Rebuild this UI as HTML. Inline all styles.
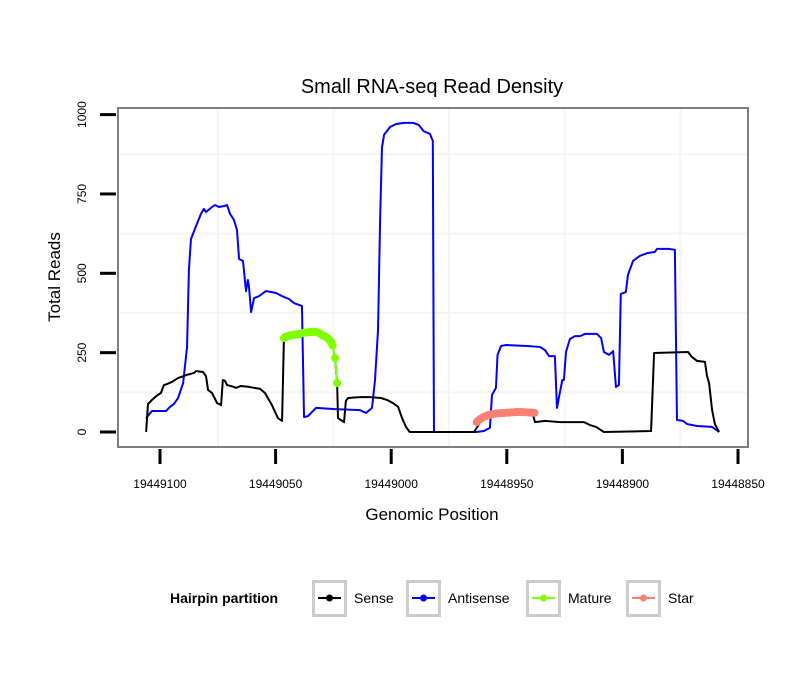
<!DOCTYPE html>
<html><head><meta charset="utf-8"><style>
body{margin:0;background:#fff;font-family:"Liberation Sans",sans-serif}
</style></head><body>
<svg id="chart" width="810" height="690" xmlns="http://www.w3.org/2000/svg">
<rect width="810" height="690" fill="#fff"/>
<text x="432" y="93" font-size="20" text-anchor="middle">Small RNA-seq Read Density</text>
<g id="grid"></g>
<g id="series"></g>
<rect x="118" y="108" width="630" height="339" fill="none" stroke="#7f7f7f" stroke-width="2"/>
<g id="axes"></g>
<text x="432" y="520" font-size="17" text-anchor="middle">Genomic Position</text>
<text transform="translate(60,277) rotate(-90)" font-size="17" text-anchor="middle">Total Reads</text>
<g>
<text x="170" y="603" font-size="14" font-weight="bold">Hairpin partition</text>
<g><rect x="313.5" y="581.5" width="32" height="34" fill="#fff" stroke="#ccc" stroke-width="3"/><line x1="318" y1="598" x2="341" y2="598" stroke="#000" stroke-width="2"/><circle cx="329.5" cy="598" r="3.5" fill="#000"/><text x="354" y="603" font-size="14">Sense</text></g>
<g><rect x="407.5" y="581.5" width="32" height="34" fill="#fff" stroke="#ccc" stroke-width="3"/><line x1="412" y1="598" x2="435" y2="598" stroke="#00f" stroke-width="2"/><circle cx="423.5" cy="598" r="3.5" fill="#00f"/><text x="448" y="603" font-size="14">Antisense</text></g>
<g><rect x="527.5" y="581.5" width="32" height="34" fill="#fff" stroke="#ccc" stroke-width="3"/><line x1="532" y1="598" x2="555" y2="598" stroke="#7fff00" stroke-width="2"/><circle cx="543.5" cy="598" r="3.5" fill="#7fff00"/><text x="568" y="603" font-size="14">Mature</text></g>
<g><rect x="627.5" y="581.5" width="32" height="34" fill="#fff" stroke="#ccc" stroke-width="3"/><line x1="632" y1="598" x2="655" y2="598" stroke="#fa8072" stroke-width="2"/><circle cx="643.5" cy="598" r="3.5" fill="#fa8072"/><text x="668" y="603" font-size="14">Star</text></g>
</g>
</svg>
<script>
const B = 19449100;
const xTicks = [19449100, 19449050, 19449000, 19448950, 19448900, 19448850];
const xTickLabels = ["19449100", "19449050", "19449000", "19448950", "19448900", "19448850"];
const yTicks = [0, 250, 500, 750, 1000];
const yTickLabels = ["0", "250", "500", "750", "1000"];
// offsets below base position (position = B - offset)
const antisenseOffsets = [-6,-3.5,2.6,4.3,6,7.8,10,11.7,12.5,13.4,15.6,17.7,19,19.9,22.5,23.8,25.5,27.7,29,30.3,32,33.3,34.2,35.9,37.2,38,38.5,39.4,40.7,42.8,45.8,48,50.2,52.8,55.8,58,61.4,62.3,64,67.5,75.7,86.5,89.1,91.7,93,94.3,95.2,96,96.9,99.5,102,105.5,109.4,112,114,116.8,118,118.5,137,140,142.7,143.6,145.3,146,147.5,149.7,158.7,164.4,166.5,168.3,170.8,171.7,174,174.7,175.6,177.3,179.5,181.7,183.8,189,190.8,192,194.2,196,197.2,198.5,199.3,201.5,202.4,204.6,207.6,211,214,215,220,222.7,223.6,226.2,228,232.3,238.8,241.8];
const antisenseReads = [44,66,66,79,88,107,154,268,510,608,649,687,703,693,709,715,709,712,715,687,668,636,545,539,444,479,457,378,422,428,444,441,438,428,419,406,397,47,50,76,72,69,60,76,164,321,668,895,936,961,970,974,974,967,948,939,917,0,0,3,13,117,139,243,271,274,271,268,258,239,239,76,164,164,252,293,302,302,309,309,296,252,243,255,142,148,435,441,495,539,555,564,567,577,577,574,38,35,25,19,16,0];
const senseOffsets = [-6,-5.2,-3.9,-2.6,-0.9,0.4,1.7,3,5.2,7.8,11.7,14.7,15.6,18.6,19.9,20.8,22.5,24.7,26.4,27.2,28.1,29,32,32.9,35,38.5,43.3,45.4,48.4,51,52.8,53.6,60,66,70,72,74,74.7,75.7,76.6,77,79.6,80.4,81.3,86.5,90.8,95.6,98.2,100.8,103,104.7,106.4,108,135.8,137,140,145,150,155,160,161.5,162.2,166.5,173,183.4,186,188.6,192,212.4,213.7,228.4,230.1,232.3,235.7,236.6,237.5,238.8,240,241.8];
const senseReads = [0,88,98,107,117,123,148,151,158,170,180,186,192,189,176,132,123,91,85,164,161,148,142,139,145,142,136,123,85,44,35,296,308,315,306,298,284,272,233,154,44,31,98,107,110,110,107,101,91,79,44,16,0,0,13,47,58,61,63,61,50,31,35,31,31,22,16,0,3,249,252,236,224,221,176,154,69,25,0];
const matureOffsets = [53.6,54,54.5,55,55.5,56,56.5,57,57.5,58,58.5,59,59.5,60,60.5,61,61.5,62,62.5,63,63.5,64,64.5,65,65.5,66,66.5,67,67.5,68,68.5,69,69.5,70,70.5,71,71.5,72,72.5,73,73.5,74,74.2,74.7,75.7,76.6];
const matureReads = [296,298,300,301,303,304,305,305,306,306,307,307,308,308,309,310,311,312,313,313,314,314,315,315,315,315,316,316,315,314,313,311,309,306,304,302,300,298,295,292,288,284,280,272,233,154];
const starOffsets = [137,137.5,138,138.5,139,139.5,140,140.5,141,141.5,142,142.5,143,143.5,144,144.5,145,145.5,146,147,148,149,150,151,152,153,154,155,156,157,158,159,160,161,162];
const starReads = [31,35,38,41,43,45,47,49,50,52,53,54,55,56,57,57,58,58,59,59,60,60,61,61,62,62,63,63,63,63,62,62,61,61,60];

const NS = "http://www.w3.org/2000/svg";
function xs(pos){ return 160 + (B - pos) * 2.312; }
function ys(v){ return 432 - v * 0.3174; }
function mk(tag, attrs, parent){ const e=document.createElementNS(NS,tag); for(const k in attrs) e.setAttribute(k,attrs[k]); parent.appendChild(e); return e; }

const grid=document.getElementById('grid'), axes=document.getElementById('axes'), ser=document.getElementById('series');
for(let i=0;i<xTicks.length-1;i++){
  const gx=(xs(xTicks[i])+xs(xTicks[i+1]))/2;
  const l=mk('line',{x1:gx,x2:gx,y1:109,y2:446,stroke:'#f5f5f5','stroke-width':2},grid);
  
  
}
for(let i=0;i<yTicks.length;i++){
  const gy=ys(yTicks[i]+125);
  if(gy<110) continue;
  const l=mk('line',{x1:119,x2:747,y1:gy,y2:gy,stroke:'#f5f5f5','stroke-width':2},grid);
  
  
}
xTicks.forEach((t,i)=>{
  const x=xs(t);
  const l=mk('line',{x1:x,x2:x,y1:449,y2:464,stroke:'#000','stroke-width':3},axes);
  
  
  const tx=mk('text',{x:x,y:488,'font-size':12,'text-anchor':'middle'},axes);
  tx.textContent=xTickLabels[i];
  
  
});
yTicks.forEach((t,i)=>{
  const y=ys(t);
  const l=mk('line',{x1:100,x2:116,y1:y,y2:y,stroke:'#000','stroke-width':3},axes);
  
  
  const tx=mk('text',{transform:`translate(86,${y}) rotate(-90)`,'font-size':12,'text-anchor':'middle'},axes);
  tx.textContent=yTickLabels[i];
  
  
});
function line(offs, vals, color, name){
  const pts=offs.map((o,i)=>xs(B-o)+','+ys(vals[i])).join(' ');
  const p=mk('polyline',{points:pts,fill:'none',stroke:color,'stroke-width':2,'stroke-linejoin':'round'},ser);
  
  
}
function dots(offs, vals, color, name){
  offs.forEach((o,i)=>{
    const c=mk('circle',{cx:xs(B-o),cy:ys(vals[i]),r:4,fill:color},ser);
    
    
  });
}
line(antisenseOffsets, antisenseReads, '#0000ff', 'antisense-line');
line(senseOffsets, senseReads, '#000000', 'sense-line');
line(matureOffsets, matureReads, '#7fff00', 'mature-line');
dots(matureOffsets, matureReads, '#7fff00', 'mature-point');
line(starOffsets, starReads, '#fa8072', 'star-line');
dots(starOffsets, starReads, '#fa8072', 'star-point');
</script>
</body></html>
